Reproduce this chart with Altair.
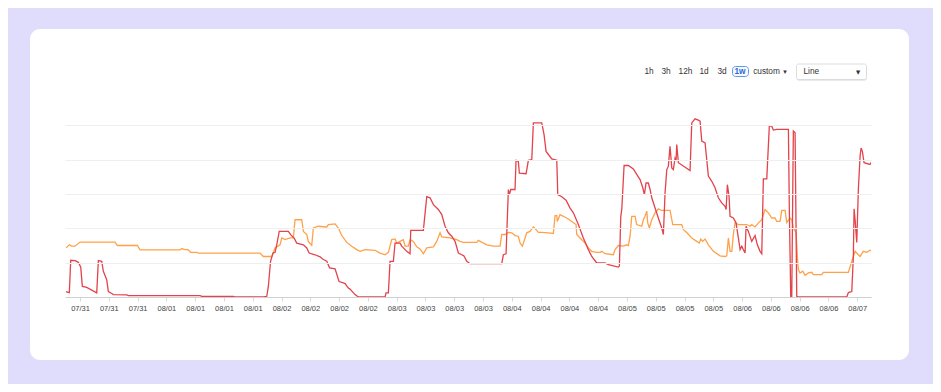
import altair as alt
import pandas as pd

# ---------------- data (hours since 2024-07-31 00:00, value) ----------------
BASE_DAY = "2024-07-31 00:00"

red_points = [
    (3.08, 0.16), (3.77, 0.13), (4.06, 1.07), (4.96, 1.06), (5.65, 1.01), (6.15, 0.87),
    (6.48, 0.31), (7.40, 0.28), (9.48, 0.12), (9.82, 1.06), (10.53, 1.04), (10.86, 0.75),
    (11.57, 0.50), (11.90, 0.16), (12.61, 0.10), (12.94, 0.07), (15.74, 0.06), (16.07, 0.04),
    (31.02, 0.04), (31.37, 0.02), (37.96, 0.02), (38.31, 0.0), (44.21, 0.0), (44.92, 0.02),
    (45.25, 0.30), (45.71, 1.04), (46.23, 1.28), (46.65, 1.30), (47.00, 1.52), (47.52, 1.91),
    (49.42, 1.91), (49.98, 1.80), (50.61, 1.72), (51.17, 1.57), (52.55, 1.52), (53.26, 1.43),
    (53.74, 1.28), (54.99, 1.23), (56.03, 1.17), (56.72, 1.09), (57.43, 1.04), (58.01, 0.85),
    (59.16, 0.82), (59.99, 0.45), (60.89, 0.41), (61.24, 0.39), (61.93, 0.26), (62.28, 0.23),
    (63.32, 0.07), (64.01, 0.0), (69.58, 0.0), (69.79, 0.12), (70.27, 0.12), (70.62, 1.04),
    (71.31, 1.04), (71.66, 1.57), (72.70, 1.57), (73.06, 1.48), (74.10, 1.33), (74.79, 1.26),
    (74.93, 1.94), (77.56, 1.94), (78.27, 2.92), (78.96, 2.89), (79.65, 2.69), (80.69, 2.55),
    (81.40, 2.40), (82.08, 2.06), (82.77, 1.87), (83.48, 1.77), (84.17, 1.62), (84.86, 1.28),
    (85.56, 1.23), (86.00, 1.20), (86.61, 1.04), (87.29, 0.97), (93.90, 0.97), (94.24, 1.23),
    (94.80, 1.26), (95.28, 3.13), (95.49, 2.98), (95.78, 3.13), (96.67, 3.13), (96.88, 3.98),
    (97.36, 3.95), (97.57, 3.61), (98.97, 3.59), (99.45, 3.98), (100.16, 4.00), (100.49, 5.07),
    (102.24, 5.07), (102.72, 4.73), (103.14, 4.24), (103.62, 4.15), (104.33, 4.02), (105.37, 3.98),
    (105.58, 2.98), (106.41, 2.92), (107.31, 2.82), (108.14, 2.59), (108.83, 2.45), (109.87, 2.11),
    (110.91, 1.72), (111.95, 1.38), (112.66, 1.18), (113.70, 0.99), (115.43, 0.99), (116.12, 0.94),
    (118.21, 0.87), (118.42, 0.90), (118.71, 2.35), (118.92, 2.55), (119.40, 3.83), (120.29, 3.83),
    (121.33, 3.73), (122.04, 3.57), (122.73, 3.42), (123.30, 3.18), (123.63, 2.98), (123.98, 3.32),
    (124.46, 3.32), (124.82, 3.13), (125.17, 2.89), (125.86, 2.59), (126.54, 2.30), (127.25, 2.01),
    (127.59, 1.82), (127.94, 3.03), (128.30, 3.71), (128.63, 3.81), (128.98, 4.39), (129.34, 3.76),
    (129.67, 3.71), (130.03, 4.05), (130.24, 4.00), (130.38, 4.44), (130.72, 3.91), (133.15, 3.68),
    (133.51, 5.07), (134.19, 5.19), (134.88, 5.15), (135.24, 5.12), (135.59, 4.54), (136.28, 4.49),
    (136.97, 3.52), (137.68, 3.37), (138.36, 3.18), (139.05, 2.89), (139.76, 2.74), (140.45, 2.64),
    (140.66, 2.55), (140.93, 3.27), (141.28, 2.93), (141.49, 2.35), (142.18, 2.30), (142.74, 2.16),
    (143.22, 1.72), (143.58, 1.38), (143.93, 1.48), (144.26, 1.38), (144.62, 1.28), (144.83, 2.06),
    (145.30, 1.91), (146.01, 1.62), (146.70, 1.79), (147.18, 1.52), (147.74, 1.33), (148.10, 1.26),
    (148.43, 3.44), (149.14, 3.44), (149.68, 4.99), (150.18, 4.97), (150.52, 4.86), (151.22, 4.88),
    (153.65, 4.88), (153.85, 2.50), (154.14, 0.0), (154.35, 0.0), (154.68, 4.83), (155.04, 4.78),
    (155.39, 0.02), (155.73, 0.0), (165.81, 0.0), (166.15, 0.13), (166.86, 0.16), (167.19, 1.18),
    (167.34, 2.57), (167.55, 2.25), (167.90, 1.59), (168.23, 3.13), (168.59, 4.10), (168.80, 4.34),
    (169.07, 4.24), (169.42, 3.91), (170.67, 3.86), (171.03, 3.95),
]

orange_points = [
    (3.08, 1.43), (3.77, 1.52), (4.27, 1.48), (4.96, 1.48), (6.00, 1.60), (13.30, 1.60),
    (13.78, 1.50), (17.95, 1.50), (18.51, 1.37), (26.85, 1.37), (27.20, 1.41), (27.68, 1.39),
    (28.58, 1.37), (29.08, 1.30), (30.33, 1.30), (30.66, 1.28), (43.52, 1.28), (44.21, 1.18),
    (45.96, 1.18), (46.65, 1.43), (47.69, 1.52), (48.05, 1.72), (48.73, 1.67), (49.78, 1.72),
    (50.46, 1.72), (50.82, 2.25), (52.21, 2.25), (52.55, 1.91), (53.26, 1.82), (53.59, 1.62),
    (54.30, 1.50), (54.63, 2.01), (55.67, 2.06), (57.43, 2.04), (57.76, 2.11), (59.16, 2.13),
    (59.84, 2.01), (60.55, 1.79), (61.59, 1.59), (62.64, 1.48), (63.68, 1.38), (64.37, 1.33),
    (65.41, 1.38), (67.49, 1.36), (68.53, 1.28), (69.58, 1.23), (70.27, 1.30), (70.97, 1.67),
    (71.66, 1.69), (72.02, 1.57), (72.70, 1.62), (73.39, 1.67), (73.75, 1.48), (74.43, 1.48),
    (74.79, 1.67), (75.48, 1.62), (76.18, 1.46), (76.87, 1.40), (77.56, 1.26), (78.27, 1.43),
    (79.65, 1.46), (80.35, 1.62), (81.04, 1.87), (81.40, 1.75), (83.13, 1.72), (84.52, 1.67),
    (85.21, 1.62), (85.90, 1.59), (88.69, 1.59), (89.03, 1.65), (90.07, 1.57), (90.78, 1.52),
    (92.15, 1.48), (93.55, 1.48), (93.90, 1.82), (94.59, 1.82), (95.28, 1.88), (95.99, 1.87),
    (96.67, 1.79), (97.36, 1.77), (97.72, 1.57), (98.20, 1.48), (98.76, 1.72), (99.11, 1.87),
    (99.80, 1.91), (100.49, 2.04), (101.05, 1.96), (101.53, 1.88), (102.24, 1.88), (103.62, 1.87),
    (104.66, 1.85), (105.01, 2.37), (105.37, 2.37), (105.49, 2.20), (106.05, 2.40), (106.74, 2.35),
    (107.78, 2.27), (108.83, 2.16), (109.39, 2.11), (109.53, 1.82), (110.22, 1.72), (111.27, 1.57),
    (111.95, 1.43), (112.66, 1.33), (113.70, 1.30), (114.39, 1.30), (114.75, 1.33), (115.43, 1.26),
    (117.16, 1.23), (117.52, 1.38), (118.21, 1.50), (119.25, 1.48), (119.96, 1.52), (120.29, 1.50),
    (120.65, 1.77), (121.00, 2.35), (121.69, 2.35), (122.04, 2.11), (123.09, 2.06), (123.42, 2.25),
    (123.77, 2.35), (124.13, 2.50), (124.33, 2.16), (124.67, 2.01), (125.17, 2.25), (125.86, 2.45),
    (126.54, 2.57), (127.25, 2.52), (128.98, 2.52), (129.55, 2.11), (131.42, 2.11), (131.76, 1.96),
    (132.46, 1.88), (133.51, 1.72), (134.55, 1.62), (135.09, 1.57), (135.38, 1.69), (135.80, 1.62),
    (136.28, 1.69), (136.97, 1.52), (138.01, 1.33), (139.41, 1.20), (140.45, 1.18), (140.80, 1.20),
    (141.14, 1.72), (141.49, 1.33), (141.85, 1.33), (142.18, 1.82), (142.53, 2.16), (143.22, 2.11),
    (144.97, 2.11), (145.66, 2.06), (146.01, 2.11), (146.70, 2.04), (147.39, 2.16), (148.10, 2.25),
    (148.79, 2.55), (149.48, 2.45), (150.18, 2.30), (150.87, 2.30), (151.22, 2.20), (151.91, 2.20),
    (152.27, 2.52), (152.96, 2.52), (153.31, 2.17), (154.00, 2.30), (154.35, 2.25), (154.68, 2.01),
    (155.25, 1.87), (155.60, 0.99), (155.73, 0.80), (156.08, 0.70), (156.65, 0.75), (157.12, 0.63),
    (157.81, 0.70), (158.52, 0.72), (158.85, 0.65), (160.60, 0.65), (160.94, 0.72), (166.15, 0.72),
    (166.86, 1.04), (167.55, 1.33), (168.23, 1.23), (168.59, 1.18), (169.27, 1.33), (169.98, 1.30),
    (170.67, 1.36), (171.03, 1.33),
]

tick_hours = list(range(6, 169, 6))          # every 6 h: 07/31 06:00 ... 08/07 00:00
domain_hours = [2.87, 170.87]                 # one-week window
grid_values = [0, 1, 2, 3, 4, 5]
y_max = 5.3

control_labels = ["1h", "3h", "12h", "1d", "3d", "1w", "custom"]
active_label = "1w"
dropdown_label = "Line"

RED = "#e3434b"
ORANGE = "#ffa149"

base = pd.Timestamp(BASE_DAY)


def ts(h):
    return base + pd.Timedelta(hours=h)


def dt(h):
    t = ts(h)
    return alt.DateTime(year=t.year, month=t.month, date=t.day, hours=t.hour, minutes=t.minute)


def frame(points, name):
    return pd.DataFrame({
        "time": [ts(h).strftime("%Y-%m-%dT%H:%M:%S") for h, _ in points],
        "value": [v for _, v in points],
        "series": name,
    })


red_df = frame(red_points, "Series A")
orange_df = frame(orange_points, "Series B")

x_enc = alt.X(
    "time:T",
    scale=alt.Scale(domain=[dt(domain_hours[0]), dt(domain_hours[1])], nice=False),
    axis=alt.Axis(
        values=[dt(h) for h in tick_hours], format="%m/%d", title=None, grid=False,
        labelFont="Liberation Sans", labelFontSize=7.5, labelColor="#444",
        tickColor="#d8d8d8", tickSize=4, domainColor="#d0d0d0", labelPadding=3,
        labelOverlap=False, zindex=1,
    ),
)
y_enc = alt.Y(
    "value:Q",
    scale=alt.Scale(domain=[0, y_max], nice=False, zero=True),
    axis=alt.Axis(values=grid_values, grid=True, gridColor="#efefef", labels=False,
                  ticks=False, domain=False, title=None, zindex=1),
)

one = pd.DataFrame({"k": [0]})

card = alt.Chart(one).mark_rect(fill="white", cornerRadius=10).encode(
    x=alt.value(-35), x2=alt.value(844), y=alt.value(-86), y2=alt.value(245)
)

orange_line = alt.Chart(orange_df).mark_line(color=ORANGE, strokeWidth=1.3, clip=True,
                                             interpolate="linear").encode(x=x_enc, y=y_enc)
red_line = alt.Chart(red_df).mark_line(color=RED, strokeWidth=1.3, clip=True,
                                       interpolate="linear").encode(x=x_enc, y=y_enc)

layers = [card, orange_line, red_line]

# --- period controls ---
control_x = [584, 601, 620.5, 639, 657, 675, 701.5]
layers.append(
    alt.Chart(one).mark_rect(fill="#f4f8ff", stroke="#5d9be8", strokeWidth=1, cornerRadius=3).encode(
        x=alt.value(667.5), x2=alt.value(683.5), y=alt.value(-48.5), y2=alt.value(-38.5)
    )
)
for lab, cx in zip(control_labels, control_x):
    active = lab == active_label
    layers.append(
        alt.Chart(one).mark_text(
            text=lab, font="Liberation Sans", fontSize=8.3,
            fontWeight="bold" if active else "normal",
            color="#2c6bd0" if active else "#333333", align="center", baseline="middle",
        ).encode(x=alt.value(cx), y=alt.value(-43.5))
    )
layers.append(
    alt.Chart(one).mark_text(text="▾", font="DejaVu Sans", fontSize=7, color="#333",
                             align="center", baseline="middle").encode(
        x=alt.value(720), y=alt.value(-43.5))
)

# --- dropdown ---
layers.append(
    alt.Chart(one).mark_rect(fill="#e9e9e9", cornerRadius=3).encode(
        x=alt.value(731.5), x2=alt.value(802), y=alt.value(-50), y2=alt.value(-34)
    )
)
layers.append(
    alt.Chart(one).mark_rect(fill="white", stroke="#d4d4d4", strokeWidth=0.8, cornerRadius=2).encode(
        x=alt.value(731.5), x2=alt.value(801.5), y=alt.value(-51), y2=alt.value(-35.5)
    )
)
layers.append(
    alt.Chart(one).mark_text(text=dropdown_label, font="Liberation Sans", fontSize=8.3,
                             color="#333", align="left", baseline="middle").encode(
        x=alt.value(738.5), y=alt.value(-43))
)
layers.append(
    alt.Chart(one).mark_text(text="▼", font="DejaVu Sans", fontSize=5.5, color="#333",
                             align="center", baseline="middle").encode(
        x=alt.value(793), y=alt.value(-43.5))
)

chart = alt.layer(*layers).properties(
    width=806, height=182,
    autosize=alt.AutoSizeParams(type="none"),
    padding={"left": 57, "top": 107, "right": 62, "bottom": 87},
    background="#e0dcfc",
).configure_view(stroke=None)

chart.save("out.html", embed_options={"renderer": "svg", "actions": False})
